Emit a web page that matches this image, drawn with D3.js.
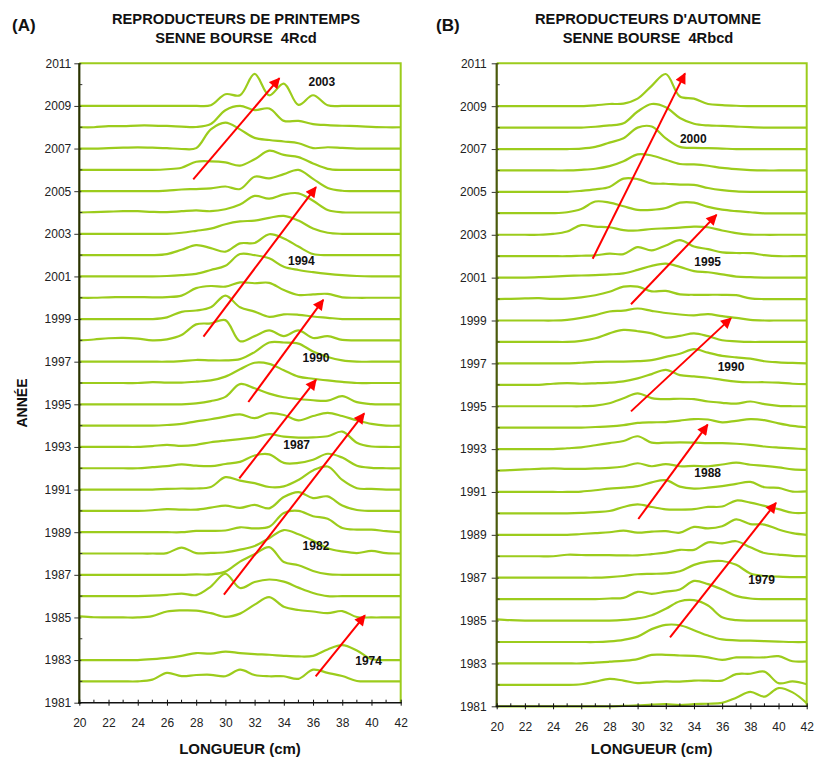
<!DOCTYPE html>
<html><head><meta charset="utf-8">
<script src="https://cdn.jsdelivr.net/npm/d3@7"></script>
<style>
body{margin:0;background:#fff}
svg{display:block}
text{font-family:"Liberation Sans",Arial,Helvetica,sans-serif}
</style>
</head><body>
<svg id="c" width="814" height="764"></svg>
<script>
// Length classes (cm)
const LENGTHS = [20,21,22,23,24,25,26,27,28,29,30,31,32,33,34,35,36,37,38,39,40,41,42];
const X_TICKS = [20,22,24,26,28,30,32,34,36,38,40,42];
const Y_TICKS = [1981,1983,1985,1987,1989,1991,1993,1995,1997,1999,2001,2003,2005,2007,2009,2011];

// Panel A : spring spawners (relative frequency, in units of one year spacing)
const A2009 = [0,0,0,0,0,0,0,0,0,0.03,0.55,0.5,1.5,0.5,1.05,0.05,0.5,0.03,0,0,0,0,0];
const A2008 = [0,0,0.05,0.05,0.08,0.08,0.06,0.03,0.01,0.15,0.8,1.0,0.8,0.88,0.3,0.3,0.15,0.1,0.07,0.05,0.02,0,0];
const A2007 = [0,0,0.02,0.04,0.06,0.04,0.02,-0.02,0.02,0.9,1.22,0.9,0.5,0.4,0.33,0.25,0.02,0.06,0.03,0,0,0,0];
const A2006 = [0,0,0,0,0,0,0.03,0.1,0.38,0.4,0.35,0.2,0.5,0.9,0.7,0.6,0.3,0.05,0,0,0,0,0];
const A2005 = [0,0,0,0,0,0,0.03,0.08,0.1,0.13,0.22,0.1,0.68,0.6,0.8,1.0,0.58,0.15,0.02,0,0,0,0];
const A2004 = [0,0.02,0.04,0.06,0.06,0.03,0.02,0.06,0.1,0.06,0.15,0.37,0.78,0.65,0.85,0.9,0.55,0.12,0.01,0,0,0,0];
const A2003 = [0,0,0,0,0,0,0,0.05,0.14,0.24,0.45,0.58,0.62,0.75,0.84,0.62,0.25,0.05,0,0,0,0,0];
const A2002 = [0,0,0,0,0,0,0.05,0.25,0.47,0.33,0.16,0.55,0.57,0.98,0.78,0.4,0.05,0,0,0,0,0,0];
const A2001 = [0,0,0,0,0,0,0.02,0.06,0.12,0.3,0.5,1.05,1.0,0.85,0.45,0.3,0.2,0.12,0.06,0.02,0,0,0];
const A2000 = [0,0,0.02,0.03,0.03,0.02,0.03,0.1,0.45,0.55,0.52,0.72,0.68,0.7,0.36,0.13,0.16,0.18,0.02,0,0,0,0];
const A1999 = [0,0,0,0,0,0,0.08,0.34,0.4,0.55,1.1,0.55,0.35,0.1,0.22,0.2,0.12,0.06,0,0,0,0,0];
const A1998 = [0,0.04,0.1,0.12,0.08,0,0.05,0.25,0.75,0.8,0.95,-0.04,0.2,0.47,0.2,0.47,0.11,0.2,0.02,0,0,0,0];
const A1997 = [0,0,0,0,0,0,0,0.03,0.08,0.06,0.06,0.12,0.45,0.9,0.9,0.85,0.48,0.22,0.06,0,0,0,0];
const A1996 = [0,0,0,0,0,0.04,0.02,0.02,0.06,0.12,0.3,0.64,0.95,0.9,0.6,0.3,0.2,0.12,0.05,0,0,0,0];
const A1995 = [0,0,0,0,0,0,0,0,0.04,0.15,0.35,0.95,0.75,0.5,0.33,0.25,0.19,0.17,0.38,0.1,0.01,0,0];
const A1994 = [0,0,0,0,0,0,0.03,0.08,0.2,0.3,0.42,0.53,0.35,0.58,0.5,0.25,0.45,0.6,0.45,0.25,0.08,0,0];
const A1993 = [0,0,0,0,0,0.04,0.1,0.05,0.1,0.22,0.3,0.37,0.45,0.6,0.48,0.44,0.45,0.5,0.72,0.2,0.02,0,0];
const A1992 = [0,0,0,0,0,0.05,0.1,0.18,0.12,0.1,0.2,0.3,0.6,0.65,0.25,0.25,0.4,0.68,0.5,0.12,0.02,0,0];
const A1991 = [0,0,0,0,0,0,0.03,0.05,0.05,0.12,0.58,0.42,0.3,0.12,0.15,0.45,0.9,1.08,0.45,0.06,0.03,0,0];
const A1990 = [0,0,0,0,0,0.03,0.08,0.06,0.06,0.15,0.25,0.14,0.28,0.12,0.65,0.88,0.6,0.68,0.25,0.04,0,0,0];
const A1989 = [0,0,0,0,0,0,0,0,0.06,0.06,0.08,0.23,0.18,0.25,0.9,1.0,0.75,0.63,0.2,0.12,0.12,0.05,0];
const A1988 = [0,0,0,0,0,0,0.02,0.28,0.02,0.03,0.06,0.18,0.35,0.72,1.1,0.9,0.6,0.25,0.1,0.02,0.12,0.02,0];
const A1987 = [0,0,0,0,0,0,0,0,0.02,0.02,0.15,0.62,0.97,1.3,0.6,0.45,0.18,0.03,0,0,0,0,0];
const A1986 = [0,0,0,0,0,0.02,0.06,0.12,0.05,0.45,1.05,0.38,0.66,0.78,0.68,0.4,0.15,0,0,0,0,0,0];
const A1985 = [0.05,0.01,0,0,0,0.06,0.28,0.33,0.32,0.2,0.03,0.18,0.6,0.95,0.5,0.35,0.28,0.2,0.3,0.02,0,0,0];
const A1983 = [0,0,0,0,0,0.04,0.1,0.2,0.33,0.3,0.4,0.33,0.28,0.25,0.2,0.17,0.2,0.5,0.7,0.45,0.05,0,0];
const A1982 = [0,0,0,0,0,0.08,0.4,0.25,0.3,0.31,0.24,0.55,0.3,0.24,0.24,0.12,0.55,0.4,0.25,0.02,0,0,0];

// Panel B : autumn spawners
const B2009 = [0,0,0,0,0,0,0,0.04,0.1,0.12,0.35,0.95,1.5,0.45,0.35,0.1,0.05,0.02,0,0,0,0,0];
const B2008 = [0,0,0,0,0,0,0,0.04,0.1,0.2,0.75,1.1,0.95,0.45,0.18,0.1,0.08,0.05,0.02,0,0,0,0];
const B2007 = [0,0,0,0,0,0,0.02,0.1,0.3,0.5,1.0,1.05,0.5,0.1,0.05,0.04,0.02,0,0,0,0,0,0];
const B2006 = [0,0,0,0,0,0,0.03,0.08,0.2,0.43,0.75,0.7,0.5,0.3,0.28,0.22,0.12,0.06,0.02,0,0,0,0];
const B2005 = [0,0,0,0,0,0,0.05,0.12,0.23,0.62,0.6,0.4,0.38,0.34,0.33,0.18,0.08,0.02,0,0,0,0,0];
const B2004 = [0.01,0.01,0.01,0.01,0.01,0.05,0.2,0.55,0.5,0.33,0.16,0.16,0.25,0.5,0.5,0.3,0.17,0.1,0.05,0,0,0,0];
const B2003 = [0,0,0,0,0.04,0.15,0.45,0.38,0.35,0.22,0.2,0.27,0.3,0.33,0.38,0.35,0.2,0.08,0.01,0,0,0,0];
const B2002 = [0,0,0,0,0,0,0.02,0.04,0.12,0.1,0.42,0.27,0.5,0.75,0.45,0.33,0.18,0.15,0.14,0.05,0,0,0];
const B2001 = [0,0,0,0.02,0.05,0.08,0.1,0.12,0.15,0.2,0.36,0.55,0.65,0.5,0.3,0.25,0.15,0.05,0.02,0,0,0,0];
const B2000 = [0,0.01,0.03,0.04,0.01,0.02,0.08,0.18,0.34,0.58,0.58,0.36,0.38,0.22,0.2,0.2,0.2,0.18,0.03,0,0,0,0];
const B1999 = [0,0,0,0,0,0.03,0.12,0.25,0.42,0.46,0.56,0.45,0.35,0.28,0.24,0.3,0.2,0.12,0.03,0,0,0,0];
const B1998 = [0,0,0,0,0,0,0.05,0.17,0.4,0.56,0.5,0.4,0.2,0.28,0.4,0.27,0.08,0.03,0,0,0,0,0];
const B1997 = [0,0,0,0,0,0,0.03,0.07,0.08,0.08,0.1,0.15,0.3,0.45,0.66,0.5,0.35,0.28,0.22,0.1,0.05,0.02,0];
const B1996 = [0,0,0,0,0.05,0.08,0.05,0.07,0.1,0.16,0.3,0.5,0.7,0.45,0.39,0.33,0.23,0.15,0.12,0.12,0.1,0.05,0.03];
const B1995 = [0,0,0,0,0,0,0,0.03,0.14,0.37,0.6,0.38,0.33,0.35,0.33,0.22,0.16,0.12,0.22,0.1,0.02,0,0];
const B1994 = [0,0,0,0,0,0,0,0.03,0.06,0.12,0.22,0.25,0.26,0.33,0.4,0.38,0.25,0.32,0.4,0.35,0.2,0.08,0.02];
const B1993 = [0,0,0,0,0,0.04,0.08,0.18,0.28,0.38,0.6,0.3,0.3,0.31,0.3,0.28,0.28,0.25,0.2,0.12,0.07,0.03,0];
const B1992 = [0,0.02,0.05,0.08,0.1,0.08,0.08,0.1,0.12,0.19,0.34,0.2,0.3,0.2,0.22,0.2,0.28,0.37,0.27,0.22,0.15,0.05,0.03];
const B1991 = [0,0,0,0,0,0,0.02,0.08,0.16,0.2,0.27,0.45,0.55,0.25,0.16,0.2,0.27,0.38,0.47,0.22,0.19,0.02,0.03];
const B1990 = [0,0,0,0,0,0,0.02,0.06,0.11,0.3,0.42,0.3,0.19,0.18,0.2,0.3,0.32,0.6,0.5,0.35,0.2,0.03,0.03];
const B1989 = [0,0,0,0,0,0,0.04,0.08,0.12,0.2,0.1,0.15,0.17,0.1,0.37,0.3,0.4,0.72,0.5,0.48,0.25,0.08,0];
const B1988 = [0,0,0,0,0,0.07,0.06,0.05,0.05,0.04,0.04,0.1,0.17,0.3,0.3,0.65,0.6,0.7,0.42,0.15,0.08,0.02,0];
const B1987 = [0,0,0,0,0,0,0,0,0.03,0.08,0.16,0.18,0.2,0.3,0.6,0.75,0.78,0.6,0.2,0.08,0.05,0.03,0.03];
const B1986 = [0,0,0,0,0,0,0,0,0.03,0.06,0.34,0.25,0.35,0.45,0.85,0.7,0.45,0.15,0.03,0,0,0,0];
const B1985 = [0.06,0.02,0,0,0,0,0,0,0,0.03,0.1,0.25,0.55,0.9,0.95,0.7,0.15,0.02,0,0,0,0,0];
const B1984 = [0,0,0,0,0,0,0,0,0.03,0.1,0.25,0.6,0.8,0.78,0.55,0.3,0.12,0.08,0.06,0.04,0.02,0,0];
const B1983 = [0,0,0,0,0,0,0,0.04,0.08,0.12,0.2,0.4,0.4,0.37,0.35,0.28,0.17,0.28,0.28,0.28,0.34,0.1,0.1];
const B1982 = [0,0,0,0,0,0,0.03,0.15,0.28,0.2,0.08,0.12,0.16,0.15,0.2,0.2,0.2,0.5,0.52,0.62,0.08,0.16,0.03];
const B1981 = [0,0,0,0,0,0,0,0,0,0.02,0.04,0.08,0.1,0.06,0.1,0.12,0.16,0.4,0.67,0.45,0.85,0.65,0.15];

const YEARS_A = [2009,2008,2007,2006,2005,2004,2003,2002,2001,2000,1999,1998,1997,1996,1995,1994,1993,1992,1991,1990,1989,1988,1987,1986,1985,1983,1982];
const SERIES_A = [A2009,A2008,A2007,A2006,A2005,A2004,A2003,A2002,A2001,A2000,A1999,A1998,A1997,A1996,A1995,A1994,A1993,A1992,A1991,A1990,A1989,A1988,A1987,A1986,A1985,A1983,A1982];
const YEARS_B = [2009,2008,2007,2006,2005,2004,2003,2002,2001,2000,1999,1998,1997,1996,1995,1994,1993,1992,1991,1990,1989,1988,1987,1986,1985,1984,1983,1982,1981];
const SERIES_B = [B2009,B2008,B2007,B2006,B2005,B2004,B2003,B2002,B2001,B2000,B1999,B1998,B1997,B1996,B1995,B1994,B1993,B1992,B1991,B1990,B1989,B1988,B1987,B1986,B1985,B1984,B1983,B1982,B1981];

// Cohort arrows [fromLength, fromYear, toLength, toYear] and their cohort labels [length, year, text]
const ARROWS_A = [[27.8,2005.55,33.7,2010.3],[28.5,1998.18,36.2,2005.19],[31.57,1995.11,36.7,1999.9],[30.95,1991.53,36.2,1996.15],[29.9,1986.07,39.5,1994.57],[36.18,1982.23,39.55,1985.1]];
const LABELS_A = [[36.6,2010.14,"2003"],[35.2,2001.73,"1994"],[36.2,1997.18,"1990"],[34.88,1993.08,"1987"],[36.2,1988.34,"1982"],[39.8,1982.96,"1974"]];
const ARROWS_B = [[26.81,2001.88,33.36,2010.53],[29.53,1999.76,35.6,2003.93],[29.53,1994.76,36.63,1999.11],[30.05,1989.74,34.97,1994.14],[32.3,1984.22,39.82,1990.49]];
const LABELS_B = [[33.95,2007.46,"2000"],[34.97,2001.72,"1995"],[36.63,1996.86,"1990"],[34.97,1991.89,"1988"],[38.8,1986.91,"1979"]];

const GREEN = "#9ccc1c";
const svg = d3.select("#c");

const defs = svg.append("defs");
defs.append("marker").attr("id","ah").attr("viewBox","0 0 10 10")
  .attr("refX",9).attr("refY",5).attr("markerUnits","userSpaceOnUse")
  .attr("markerWidth",13).attr("markerHeight",11).attr("orient","auto")
  .append("path").attr("d","M0,0 L10,5 L0,10 Z").attr("fill","#ff0000");

function panel(cfg){
  const x = d3.scaleLinear().domain([20,42]).range([cfg.x0,cfg.x1]);
  const y = d3.scaleLinear().domain([1981,2011]).range([cfg.y1,cfg.y0]);
  const g = svg.append("g");

  // plot border (green)
  g.append("path").attr("d",`M${cfg.x0},${cfg.y0}H${cfg.x1}V${cfg.y1}`)
    .attr("fill","none").attr("stroke",GREEN).attr("stroke-width",2);

  // curves
  const line = d3.line().curve(d3.curveCatmullRom.alpha(0.5));
  cfg.years.forEach((yr,i)=>{
    const vals = cfg.series[i];
    const pts = LENGTHS.map((L,j)=>[x(L), y(yr + vals[j])]);
    g.append("path").attr("d",line(pts)).attr("fill","none")
      .attr("stroke",GREEN).attr("stroke-width",2.2).attr("stroke-linejoin","round");
  });

  // left axis
  const yAx = g.append("g").attr("transform",`translate(${cfg.x0},0)`)
    .call(d3.axisLeft(y).tickValues(Y_TICKS).tickFormat(d3.format("d")).tickSize(5).tickPadding(cfg.ypad));
  yAx.select(".domain").remove();
  yAx.selectAll(".tick line").attr("x2",-5).attr("x1",2).attr("stroke","#333");
  yAx.selectAll(".tick text").attr("font-size",12).attr("fill","#222");
  const yMinor = d3.range(1982,2011,2);
  g.selectAll(null).data(yMinor).enter().append("line")
    .attr("x1",cfg.x0).attr("x2",cfg.x0+3).attr("y1",d=>y(d)).attr("y2",d=>y(d)).attr("stroke","#333");
  g.append("line").attr("x1",cfg.x0).attr("x2",cfg.x0).attr("y1",cfg.y0).attr("y2",cfg.y1+1)
    .attr("stroke",cfg.axisColor).attr("stroke-width",2.2);

  // bottom axis
  const xAx = g.append("g").attr("transform",`translate(0,${cfg.y1})`)
    .call(d3.axisBottom(x).tickValues(X_TICKS).tickSize(3).tickPadding(13));
  xAx.select(".domain").remove();
  xAx.selectAll(".tick line").attr("y1",-3).attr("stroke","#111");
  xAx.selectAll(".tick text").attr("font-size",12).attr("fill","#222");
  const xMinor = d3.range(21,42,2);
  g.selectAll(null).data(xMinor).enter().append("line")
    .attr("x1",d=>x(d)).attr("x2",d=>x(d)).attr("y1",cfg.y1).attr("y2",cfg.y1-3).attr("stroke","#111");
  g.append("line").attr("x1",cfg.x0-1).attr("x2",cfg.x1+1).attr("y1",cfg.y1).attr("y2",cfg.y1)
    .attr("stroke","#111").attr("stroke-width",1.5);

  // arrows
  g.selectAll(null).data(cfg.arrows).enter().append("line")
    .attr("x1",d=>x(d[0])).attr("y1",d=>y(d[1])).attr("x2",d=>x(d[2])).attr("y2",d=>y(d[3]))
    .attr("stroke","#ff0000").attr("stroke-width",2).attr("marker-end","url(#ah)");
  g.selectAll(null).data(cfg.labels).enter().append("text")
    .attr("x",d=>x(d[0])).attr("y",d=>y(d[1])).attr("dy","0.35em")
    .attr("text-anchor","middle").attr("font-size",12).attr("font-weight","bold").attr("fill","#111")
    .text(d=>d[2]);

  // titles
  const cx = (cfg.x0+cfg.x1)/2;
  g.append("text").attr("x",cfg.tx).attr("y",24).attr("text-anchor","middle")
    .attr("font-size",14.7).attr("font-weight","bold").attr("fill","#111").text(cfg.title1);
  g.append("text").attr("x",cfg.tx).attr("y",43.3).attr("text-anchor","middle")
    .attr("font-size",14.7).attr("font-weight","bold").attr("fill","#111").attr("xml:space","preserve").text(cfg.title2);
  g.append("text").attr("x",cfg.lx).attr("y",31).attr("font-size",17).attr("font-weight","bold")
    .attr("fill","#111").text(cfg.letter);
  g.append("text").attr("x",cx).attr("y",754).attr("text-anchor","middle")
    .attr("font-size",15).attr("font-weight","bold").attr("fill","#111").text("LONGUEUR (cm)");
  return g;
}

panel({x0:79.3,x1:400.7,y0:63.3,y1:702.7,years:YEARS_A,series:SERIES_A,arrows:ARROWS_A,labels:LABELS_A,
  title1:"REPRODUCTEURS DE PRINTEMPS",title2:"SENNE BOURSE\u00a0 4Rcd",tx:236,lx:12,letter:"(A)",
  axisColor:"#2a3300",ypad:3});
panel({x0:496.7,x1:806.7,y0:63.3,y1:706.3,years:YEARS_B,series:SERIES_B,arrows:ARROWS_B,labels:LABELS_B,
  title1:"REPRODUCTEURS D'AUTOMNE",title2:"SENNE BOURSE\u00a0 4Rbcd",tx:648,lx:436,letter:"(B)",
  axisColor:"#4b5a0c",ypad:5});

svg.append("text").attr("transform","translate(27,403) rotate(-90)").attr("text-anchor","middle")
  .attr("font-size",14).attr("font-weight","bold").attr("fill","#111").text("ANNÉE");
</script>
</body></html>
